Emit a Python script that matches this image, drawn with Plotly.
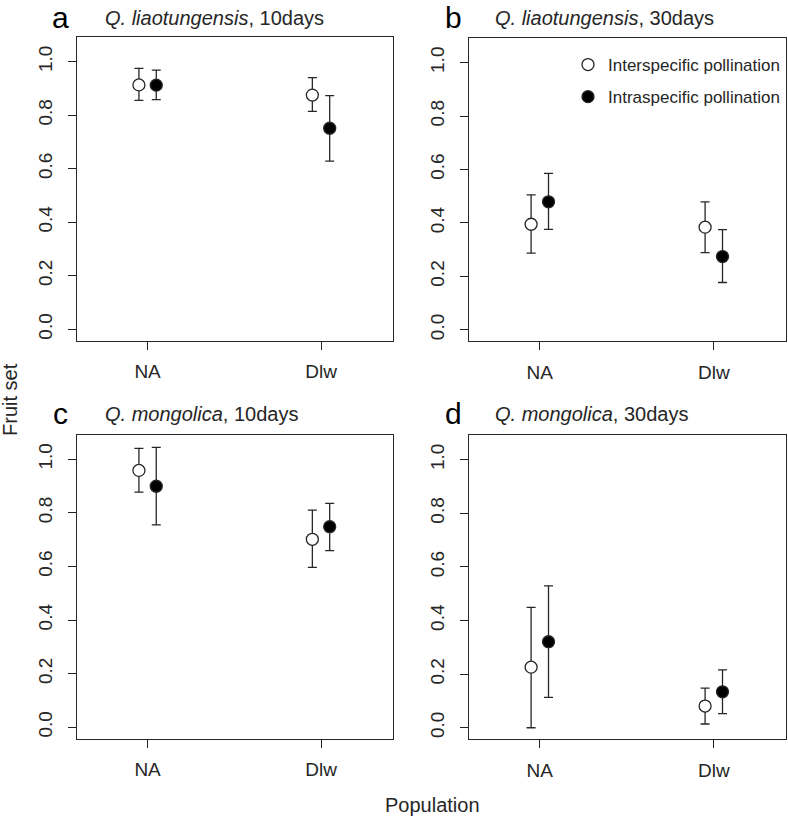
"""
Fruit set of Q. liaotungensis / Q. mongolica after inter- and intraspecific
pollination, 10 and 30 days - four panel dot + error bar chart
"""

import plotly.graph_objects as go

# categories on the x axis
populations = ['NA', 'Dlw']
panel_letters = ['a', 'b', 'c', 'd']
panel_species = ['Q. liaotungensis', 'Q. liaotungensis', 'Q. mongolica', 'Q. mongolica']
panel_days = ['10days', '30days', '10days', '30days']

# interspecific pollination (open circles): mean, upper, lower per panel
inter_mean = [[0.913, 0.875], [0.395, 0.384], [0.958, 0.701], [0.226, 0.081]]
inter_upper = [[0.975, 0.940], [0.505, 0.479], [1.040, 0.810], [0.449, 0.148]]
inter_lower = [[0.855, 0.814], [0.287, 0.289], [0.877, 0.596], [0.000, 0.014]]

# intraspecific pollination (filled circles)
intra_mean = [[0.912, 0.751], [0.479, 0.274], [0.899, 0.748], [0.321, 0.134]]
intra_upper = [[0.968, 0.873], [0.585, 0.375], [1.044, 0.835], [0.529, 0.216]]
intra_lower = [[0.858, 0.628], [0.376, 0.177], [0.755, 0.659], [0.113, 0.053]]

W, H = 788, 820
FONT = 'Liberation Sans, Arial, sans-serif'
INK = '#262626'
OFFSET = 0.05  # horizontal dodge of the two pollination types

# panel boxes in pixels: (left, right, top, bottom)
boxes = [(77, 393, 37, 340.5), (469, 786, 38, 341),
         (77, 393, 434.5, 738.5), (469, 786, 435, 739)]

fig = go.Figure()

series = [
    ('Interspecific pollination', 'white', -OFFSET, inter_mean, inter_upper, inter_lower),
    ('Intraspecific pollination', 'black', OFFSET, intra_mean, intra_upper, intra_lower),
]

for p in range(4):
    sfx = '' if p == 0 else str(p + 1)
    for name, fill, dx, mean, up, lo in series:
        xs = [i + 1 + dx for i in range(len(populations))]
        fig.add_trace(go.Scatter(
            x=xs,
            y=mean[p],
            mode='markers',
            marker=dict(symbol='circle', size=12, color=fill,
                        line=dict(color=INK, width=1.3)),
            error_y=dict(type='data', symmetric=False,
                         array=[u - m for u, m in zip(up[p], mean[p])],
                         arrayminus=[m - l for m, l in zip(mean[p], lo[p])],
                         color=INK, thickness=1.3, width=4.5),
            name=name,
            legendgroup=name,
            showlegend=(p == 1),
            xaxis='x' + sfx,
            yaxis='y' + sfx,
        ))

layout_axes = {}
for p, (l, r, t, b) in enumerate(boxes):
    sfx = '' if p == 0 else str(p + 1)
    layout_axes['xaxis' + sfx] = dict(
        domain=[l / W, r / W],
        anchor='y' + sfx,
        range=[0.593, 2.415],
        tickvals=[1, 2],
        ticktext=populations,
        ticks='outside', ticklen=8, tickwidth=1.3, tickcolor=INK,
        ticklabelstandoff=6,
        showline=True, linecolor=INK, linewidth=1.3, mirror=True,
        showgrid=False, zeroline=False,
        tickfont=dict(size=19, color=INK, family=FONT),
    )
    layout_axes['yaxis' + sfx] = dict(
        domain=[1 - b / H, 1 - t / H],
        anchor='x' + sfx,
        range=[-0.042, 1.092],
        tickvals=[0, 0.2, 0.4, 0.6, 0.8, 1.0],
        tickformat='.1f',
        tickangle=-90,
        ticks='outside', ticklen=8, tickwidth=1.3, tickcolor=INK,
        ticklabelstandoff=8,
        showline=True, linecolor=INK, linewidth=1.3, mirror=True,
        showgrid=False, zeroline=False,
        tickfont=dict(size=19, color=INK, family=FONT),
    )

annotations = []
label_pos = [(60, 17), (453, 17), (60, 413), (453, 413)]
title_x = [103, 493, 103, 493]
for p in range(4):
    lx, ly = label_pos[p]
    annotations.append(dict(
        text=panel_letters[p], x=lx / W, y=1 - ly / H, xref='paper', yref='paper',
        xanchor='center', yanchor='middle', showarrow=False,
        font=dict(size=30, color='black', family=FONT)))
    annotations.append(dict(
        text=f'<i>{panel_species[p]}</i>, {panel_days[p]}',
        x=title_x[p] / W, y=1 - (ly + 1) / H, xref='paper', yref='paper',
        xanchor='left', yanchor='middle', showarrow=False,
        font=dict(size=20, color=INK, family=FONT)))

annotations.append(dict(
    text='Fruit set', x=10 / W, y=1 - 400 / H, xref='paper', yref='paper',
    xanchor='center', yanchor='middle', textangle=-90, showarrow=False,
    font=dict(size=20, color=INK, family=FONT)))
annotations.append(dict(
    text='Population', x=432 / W, y=1 - 805 / H, xref='paper', yref='paper',
    xanchor='center', yanchor='middle', showarrow=False,
    font=dict(size=20, color=INK, family=FONT)))

fig.update_layout(
    width=W, height=H,
    margin=dict(l=0, r=0, t=0, b=0),
    paper_bgcolor='white',
    plot_bgcolor='white',
    font=dict(family=FONT, color=INK),
    annotations=annotations,
    legend=dict(
        x=568 / W, y=1 - 47 / H, xanchor='left', yanchor='top',
        bgcolor='rgba(0,0,0,0)',
        font=dict(size=17, color=INK, family=FONT),
        tracegroupgap=7,
        itemclick=False,
    ),
    **layout_axes,
)

# drop the browser's default body margin so the figure sits at (0, 0)
fig.write_html('out.html', config={'displayModeBar': False},
               post_script="document.body.style.margin='0px';")
